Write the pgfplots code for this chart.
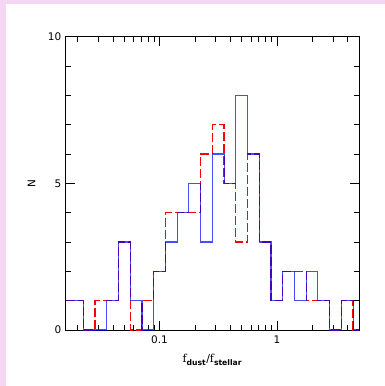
\documentclass[border=0pt]{standalone}
\usepackage{fontspec}
\setmainfont{DejaVu Sans}
\newfontfamily\serifx{DejaVu Serif}
\usepackage{pgfplots}
\pgfplotsset{compat=1.18}
\definecolor{pinkbg}{RGB}{245,215,245}
\begin{document}
\begin{tikzpicture}
\useasboundingbox (-65.7bp,-56bp) rectangle (319.3bp,330bp);
\fill[pinkbg] (-65.7bp,-56bp) rectangle (-59.7bp,330bp);
\fill[pinkbg] (-65.7bp,326bp) rectangle (319.3bp,330bp);
\begin{axis}[
  at={(0,0)}, anchor=south west,
  scale only axis, width=293.3bp, height=293.3bp,
  xmode=log, xmin=0.015849, xmax=5.011872,
  ymin=0, ymax=10,
  xtick={0.1,1}, xticklabels={0.1,1},
  minor xtick={0.02,0.03,0.04,0.05,0.06,0.07,0.08,0.09,0.2,0.3,0.4,0.5,0.6,0.7,0.8,0.9,2,3,4,5},
  ytick={0,5,10}, minor ytick={1,2,3,4,6,7,8,9},
  tick align=inside, xtick pos=both, ytick pos=both,
  major tick length=9bp, minor tick length=5bp,
  tick style={black, line width=0.7pt},
  axis line style={black, line width=0.8pt},
  /pgf/number format/assume math mode=true,
  tick label style={font=\fontsize{10.5}{12}\selectfont},
  xticklabel style={yshift=-2bp},
  yticklabel style={xshift=-1bp},
  xlabel={{\serifx f}\textsubscript{\textbf{dust}}/{\serifx f}\textsubscript{\textbf{stellar}}},
  xlabel style={at={(axis description cs:0.5,-0.102)}, anchor=center, font=\fontsize{11}{13}\selectfont},
  ylabel={N},
  ylabel style={at={(axis description cs:-0.116,0.5)}, anchor=center, font=\fontsize{10.5}{12}\selectfont},
]
\addplot[const plot, mark=none, red, line width=1.3pt, dash pattern=on 9bp off 3bp] coordinates {
(0.015849,1) (0.022387,0) (0.028184,1) (0.035481,1) (0.044668,3) (0.056234,0)
(0.070795,1) (0.089125,2) (0.112202,4) (0.141254,4) (0.177828,4) (0.223872,6)
(0.281838,7) (0.354813,5) (0.446684,3) (0.562341,6) (0.707946,3) (0.891251,1)
(1.122018,2) (1.412538,2) (1.778279,1) (2.238721,1) (2.818383,0) (3.548134,1)
(4.466836,0) (5.011872,0)};
\addplot[const plot, mark=none, blue, line width=1.1pt, opacity=0.7] coordinates {
(0.015849,1) (0.022387,0) (0.028184,0) (0.035481,1) (0.044668,3) (0.056234,1)
(0.070795,0) (0.089125,2) (0.112202,3) (0.141254,4) (0.177828,5) (0.223872,3)
(0.281838,6) (0.354813,5) (0.446684,8) (0.562341,6) (0.707946,3) (0.891251,1)
(1.122018,2) (1.412538,1) (1.778279,2) (2.238721,1) (2.818383,0) (3.548134,1)
(4.466836,0) (5.011872,0)};
\end{axis}
\end{tikzpicture}
\end{document}
